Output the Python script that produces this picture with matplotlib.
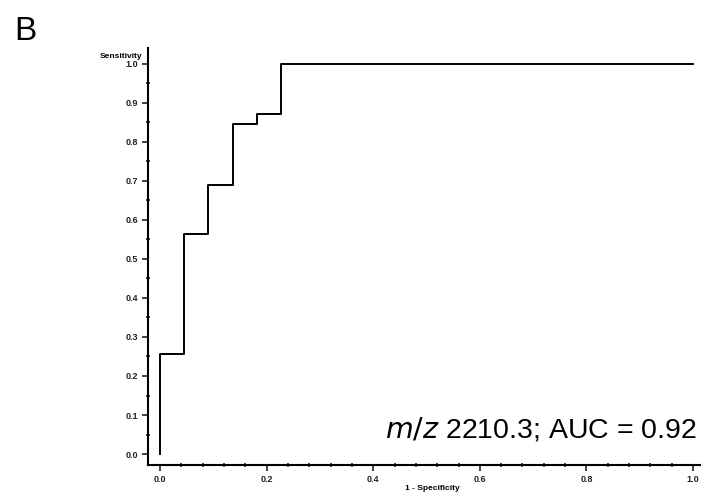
import matplotlib
matplotlib.use("Agg")
import matplotlib.pyplot as plt
from matplotlib.ticker import MultipleLocator, FormatStrFormatter

fpr = [0.0, 0.0, 0.0455, 0.0455, 0.0909, 0.0909, 0.1364, 0.1364, 0.1818, 0.1818, 0.2273, 0.2273, 1.0]
tpr = [0.0, 0.256, 0.256, 0.5625, 0.5625, 0.69, 0.69, 0.845, 0.845, 0.87, 0.87, 1.0, 1.0]
label_text = "2210.3; AUC = 0.92"

plt.rcParams['font.family'] = ['Liberation Sans', 'DejaVu Sans']
fig = plt.figure(figsize=(7.13, 4.96), dpi=100)
ax = fig.add_axes([148/713, 31/496, (700-148)/713, (465-48)/496])
ax.plot(fpr, tpr, color='black', lw=1.4)
ax.set_xlim(-0.0225, 1.013)
ax.set_ylim(-0.028, 1.04)
for s in ['top', 'right']:
    ax.spines[s].set_visible(False)
for s in ['left', 'bottom']:
    ax.spines[s].set_linewidth(1.5)
ax.xaxis.set_major_locator(MultipleLocator(0.2))
ax.xaxis.set_minor_locator(MultipleLocator(0.04))
ax.yaxis.set_major_locator(MultipleLocator(0.1))
ax.yaxis.set_minor_locator(MultipleLocator(0.05))
ax.xaxis.set_major_formatter(FormatStrFormatter('%.1f'))
ax.yaxis.set_major_formatter(FormatStrFormatter('%.1f'))
ax.tick_params(which='major', length=4, width=1.2, labelsize=6.5, pad=3, colors='#222222')
ax.tick_params(which='minor', length=3, width=1.2, direction='inout', color='#222222')
for lab in ax.get_xticklabels() + ax.get_yticklabels():
    lab.set_fontweight('bold')
fig.text(432/713, 1 - 489/496, '1 - Specificity', fontsize=6, fontweight='bold', ha='center', va='center')
fig.text(100/713, 1 - 57/496, 'Sensitivity', fontsize=6, fontweight='bold', ha='left', va='center')
ax.text(0.9946, 0.084, r'$\it{m/z}$ ' + label_text, transform=ax.transAxes, ha='right', va='center', fontsize=20.5)
fig.text(14/713, 1 - 32/496, 'B', fontsize=24, ha='left', va='center')
fig.savefig('out.png', dpi=100)
